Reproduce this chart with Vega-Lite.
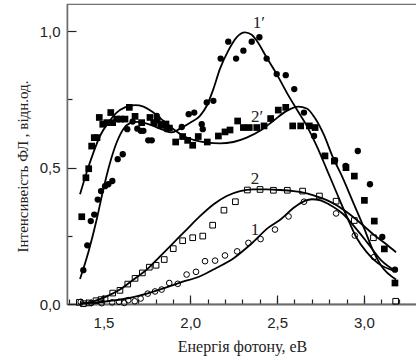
{
  "$schema": "https://vega.github.io/schema/vega-lite/v6.json",
  "autosize": "none",
  "padding": {"left": 67, "top": 4, "right": 0, "bottom": 58},
  "width": 350,
  "height": 300,
  "config": {
    "view": {"stroke": "#707070", "strokeWidth": 1.2},
    "axis": {"titleFont": "Liberation Serif", "titleFontWeight": "normal", "labelFont": "Liberation Sans"}
  },
  "datasets": {
    "pts": [
      {"s":"1p","x":1.384,"y":0.124},{"s":"1p","x":1.407,"y":0.215},{"s":"1p","x":1.427,"y":0.304},{"s":"1p","x":1.447,"y":0.328},{"s":"1p","x":1.467,"y":0.383},{"s":"1p","x":1.486,"y":0.414},{"s":"1p","x":1.509,"y":0.432},{"s":"1p","x":1.528,"y":0.439},{"s":"1p","x":1.551,"y":0.451},{"s":"1p","x":1.582,"y":0.531},{"s":"1p","x":1.611,"y":0.549},{"s":"1p","x":1.637,"y":0.641},{"s":"1p","x":1.668,"y":0.669},{"s":"1p","x":1.695,"y":0.643},{"s":"1p","x":1.715,"y":0.635},{"s":"1p","x":1.73,"y":0.635},{"s":"1p","x":1.758,"y":0.6},{"s":"1p","x":1.778,"y":0.6},{"s":"1p","x":1.807,"y":0.69},{"s":"1p","x":1.836,"y":0.659},{"s":"1p","x":1.864,"y":0.641},{"s":"1p","x":1.951,"y":0.649},{"s":"1p","x":1.991,"y":0.696},{"s":"1p","x":2.023,"y":0.702},{"s":"1p","x":2.066,"y":0.659},{"s":"1p","x":2.072,"y":0.641},{"s":"1p","x":2.095,"y":0.739},{"s":"1p","x":2.133,"y":0.745},{"s":"1p","x":2.175,"y":0.9},{"s":"1p","x":2.219,"y":0.962},{"s":"1p","x":2.264,"y":0.9},{"s":"1p","x":2.306,"y":0.929},{"s":"1p","x":2.354,"y":0.962},{"s":"1p","x":2.398,"y":0.978},{"s":"1p","x":2.44,"y":0.9},{"s":"1p","x":2.498,"y":0.843},{"s":"1p","x":2.55,"y":0.839},{"s":"1p","x":2.599,"y":0.788},{"s":"1p","x":2.655,"y":0.702},{"s":"1p","x":2.713,"y":0.616},{"s":"1p","x":2.772,"y":0.543},{"s":"1p","x":2.834,"y":0.527},{"s":"1p","x":2.895,"y":0.506},{"s":"1p","x":2.965,"y":0.561},{"s":"1p","x":3.035,"y":0.439},{"s":"1p","x":3.106,"y":0.246},{"s":"1p","x":3.179,"y":0.126},
      {"s":"2p","x":1.375,"y":0.32},{"s":"2p","x":1.399,"y":0.463},{"s":"2p","x":1.415,"y":0.496},{"s":"2p","x":1.432,"y":0.579},{"s":"2p","x":1.447,"y":0.61},{"s":"2p","x":1.463,"y":0.61},{"s":"2p","x":1.476,"y":0.684},{"s":"2p","x":1.496,"y":0.659},{"s":"2p","x":1.519,"y":0.665},{"s":"2p","x":1.542,"y":0.702},{"s":"2p","x":1.553,"y":0.665},{"s":"2p","x":1.576,"y":0.678},{"s":"2p","x":1.599,"y":0.678},{"s":"2p","x":1.624,"y":0.678},{"s":"2p","x":1.649,"y":0.721},{"s":"2p","x":1.682,"y":0.688},{"s":"2p","x":1.72,"y":0.665},{"s":"2p","x":1.768,"y":0.684},{"s":"2p","x":1.79,"y":0.665},{"s":"2p","x":1.81,"y":0.675},{"s":"2p","x":1.83,"y":0.655},{"s":"2p","x":1.86,"y":0.66},{"s":"2p","x":1.88,"y":0.645},{"s":"2p","x":1.916,"y":0.594},{"s":"2p","x":1.956,"y":0.614},{"s":"2p","x":1.985,"y":0.6},{"s":"2p","x":2.014,"y":0.582},{"s":"2p","x":2.046,"y":0.614},{"s":"2p","x":2.098,"y":0.594},{"s":"2p","x":2.162,"y":0.616},{"s":"2p","x":2.2,"y":0.631},{"s":"2p","x":2.229,"y":0.638},{"s":"2p","x":2.273,"y":0.671},{"s":"2p","x":2.306,"y":0.647},{"s":"2p","x":2.34,"y":0.647},{"s":"2p","x":2.383,"y":0.647},{"s":"2p","x":2.425,"y":0.653},{"s":"2p","x":2.463,"y":0.68},{"s":"2p","x":2.507,"y":0.711},{"s":"2p","x":2.55,"y":0.721},{"s":"2p","x":2.59,"y":0.653},{"s":"2p","x":2.636,"y":0.653},{"s":"2p","x":2.686,"y":0.653},{"s":"2p","x":2.719,"y":0.647},{"s":"2p","x":2.776,"y":0.543},{"s":"2p","x":2.83,"y":0.524},{"s":"2p","x":2.897,"y":0.5},{"s":"2p","x":2.945,"y":0.469},{"s":"2p","x":3.003,"y":0.38},{"s":"2p","x":3.06,"y":0.304},{"s":"2p","x":3.118,"y":0.202},{"s":"2p","x":3.179,"y":0.077},
      {"s":"2","x":1.361,"y":0.006},{"s":"2","x":1.384,"y":0.001},{"s":"2","x":1.418,"y":0.004},{"s":"2","x":1.457,"y":0.012},{"s":"2","x":1.486,"y":0.016},{"s":"2","x":1.509,"y":0.019},{"s":"2","x":1.553,"y":0.04},{"s":"2","x":1.595,"y":0.05},{"s":"2","x":1.64,"y":0.073},{"s":"2","x":1.682,"y":0.094},{"s":"2","x":1.724,"y":0.114},{"s":"2","x":1.764,"y":0.135},{"s":"2","x":1.803,"y":0.142},{"s":"2","x":1.85,"y":0.163},{"s":"2","x":1.902,"y":0.203},{"s":"2","x":1.956,"y":0.232},{"s":"2","x":2.014,"y":0.243},{"s":"2","x":2.072,"y":0.249},{"s":"2","x":2.129,"y":0.289},{"s":"2","x":2.194,"y":0.344},{"s":"2","x":2.26,"y":0.375},{"s":"2","x":2.329,"y":0.418},{"s":"2","x":2.402,"y":0.42},{"s":"2","x":2.479,"y":0.417},{"s":"2","x":2.559,"y":0.417},{"s":"2","x":2.647,"y":0.414},{"s":"2","x":2.744,"y":0.396},{"s":"2","x":2.84,"y":0.377},{"s":"2","x":2.945,"y":0.306},{"s":"2","x":3.055,"y":0.243},{"s":"2","x":3.183,"y":0.01},
      {"s":"1","x":1.369,"y":0.008},{"s":"1","x":1.43,"y":0.004},{"s":"1","x":1.49,"y":0.003},{"s":"1","x":1.55,"y":0.006},{"s":"1","x":1.59,"y":0.008},{"s":"1","x":1.62,"y":0.004},{"s":"1","x":1.643,"y":0.014},{"s":"1","x":1.68,"y":0.01},{"s":"1","x":1.714,"y":0.02},{"s":"1","x":1.755,"y":0.038},{"s":"1","x":1.797,"y":0.046},{"s":"1","x":1.835,"y":0.053},{"s":"1","x":1.879,"y":0.077},{"s":"1","x":1.928,"y":0.074},{"s":"1","x":1.979,"y":0.108},{"s":"1","x":2.033,"y":0.118},{"s":"1","x":2.085,"y":0.157},{"s":"1","x":2.143,"y":0.159},{"s":"1","x":2.2,"y":0.178},{"s":"1","x":2.27,"y":0.193},{"s":"1","x":2.335,"y":0.224},{"s":"1","x":2.405,"y":0.238},{"s":"1","x":2.488,"y":0.273},{"s":"1","x":2.566,"y":0.321},{"s":"1","x":2.655,"y":0.375},{"s":"1","x":2.84,"y":0.332},{"s":"1","x":2.948,"y":0.251},{"s":"1","x":3.058,"y":0.172}
    ],
    "curves": [
      {"s":"1p","x":1.365,"y":0.092},{"s":"1p","x":1.413,"y":0.19},{"s":"1p","x":1.461,"y":0.31},{"s":"1p","x":1.499,"y":0.42},{"s":"1p","x":1.538,"y":0.518},{"s":"1p","x":1.576,"y":0.592},{"s":"1p","x":1.614,"y":0.641},{"s":"1p","x":1.653,"y":0.663},{"s":"1p","x":1.691,"y":0.668},{"s":"1p","x":1.73,"y":0.665},{"s":"1p","x":1.787,"y":0.653},{"s":"1p","x":1.845,"y":0.638},{"s":"1p","x":1.893,"y":0.629},{"s":"1p","x":1.941,"y":0.643},{"s":"1p","x":1.999,"y":0.665},{"s":"1p","x":2.056,"y":0.69},{"s":"1p","x":2.095,"y":0.727},{"s":"1p","x":2.133,"y":0.788},{"s":"1p","x":2.171,"y":0.862},{"s":"1p","x":2.219,"y":0.929},{"s":"1p","x":2.267,"y":0.978},{"s":"1p","x":2.315,"y":0.996},{"s":"1p","x":2.354,"y":0.987},{"s":"1p","x":2.383,"y":0.965},{"s":"1p","x":2.44,"y":0.904},{"s":"1p","x":2.498,"y":0.843},{"s":"1p","x":2.555,"y":0.776},{"s":"1p","x":2.613,"y":0.714},{"s":"1p","x":2.671,"y":0.653},{"s":"1p","x":2.728,"y":0.58},{"s":"1p","x":2.786,"y":0.494},{"s":"1p","x":2.843,"y":0.408},{"s":"1p","x":2.901,"y":0.322},{"s":"1p","x":2.958,"y":0.243},{"s":"1p","x":3.016,"y":0.19},{"s":"1p","x":3.08,"y":0.15},{"s":"1p","x":3.185,"y":0.12},
      {"s":"2p","x":1.365,"y":0.402},{"s":"2p","x":1.403,"y":0.482},{"s":"2p","x":1.442,"y":0.555},{"s":"2p","x":1.48,"y":0.616},{"s":"2p","x":1.528,"y":0.665},{"s":"2p","x":1.576,"y":0.702},{"s":"2p","x":1.624,"y":0.721},{"s":"2p","x":1.682,"y":0.729},{"s":"2p","x":1.73,"y":0.724},{"s":"2p","x":1.787,"y":0.702},{"s":"2p","x":1.845,"y":0.672},{"s":"2p","x":1.903,"y":0.641},{"s":"2p","x":1.96,"y":0.616},{"s":"2p","x":2.018,"y":0.602},{"s":"2p","x":2.095,"y":0.592},{"s":"2p","x":2.171,"y":0.589},{"s":"2p","x":2.248,"y":0.594},{"s":"2p","x":2.325,"y":0.61},{"s":"2p","x":2.402,"y":0.635},{"s":"2p","x":2.479,"y":0.672},{"s":"2p","x":2.555,"y":0.708},{"s":"2p","x":2.622,"y":0.724},{"s":"2p","x":2.671,"y":0.717},{"s":"2p","x":2.72,"y":0.68},{"s":"2p","x":2.77,"y":0.62},{"s":"2p","x":2.82,"y":0.54},{"s":"2p","x":2.88,"y":0.46},{"s":"2p","x":2.94,"y":0.37},{"s":"2p","x":3.0,"y":0.28},{"s":"2p","x":3.05,"y":0.2},{"s":"2p","x":3.1,"y":0.14},{"s":"2p","x":3.185,"y":0.09},
      {"s":"2","x":1.365,"y":0.001},{"s":"2","x":1.442,"y":0.01},{"s":"2","x":1.519,"y":0.028},{"s":"2","x":1.595,"y":0.053},{"s":"2","x":1.672,"y":0.089},{"s":"2","x":1.749,"y":0.126},{"s":"2","x":1.826,"y":0.175},{"s":"2","x":1.903,"y":0.224},{"s":"2","x":1.979,"y":0.273},{"s":"2","x":2.056,"y":0.322},{"s":"2","x":2.133,"y":0.365},{"s":"2","x":2.21,"y":0.396},{"s":"2","x":2.287,"y":0.414},{"s":"2","x":2.363,"y":0.42},{"s":"2","x":2.44,"y":0.42},{"s":"2","x":2.517,"y":0.418},{"s":"2","x":2.594,"y":0.414},{"s":"2","x":2.671,"y":0.406},{"s":"2","x":2.748,"y":0.39},{"s":"2","x":2.824,"y":0.369},{"s":"2","x":2.901,"y":0.337},{"s":"2","x":2.978,"y":0.298},{"s":"2","x":3.055,"y":0.255},{"s":"2","x":3.131,"y":0.218},{"s":"2","x":3.185,"y":0.19},
      {"s":"1","x":1.365,"y":0.002},{"s":"1","x":1.45,"y":0.005},{"s":"1","x":1.55,"y":0.012},{"s":"1","x":1.65,"y":0.022},{"s":"1","x":1.75,"y":0.038},{"s":"1","x":1.85,"y":0.058},{"s":"1","x":1.95,"y":0.08},{"s":"1","x":2.05,"y":0.1},{"s":"1","x":2.15,"y":0.132},{"s":"1","x":2.25,"y":0.168},{"s":"1","x":2.35,"y":0.22},{"s":"1","x":2.45,"y":0.28},{"s":"1","x":2.52,"y":0.31},{"s":"1","x":2.6,"y":0.355},{"s":"1","x":2.66,"y":0.378},{"s":"1","x":2.7,"y":0.384},{"s":"1","x":2.75,"y":0.38},{"s":"1","x":2.8,"y":0.365},{"s":"1","x":2.88,"y":0.33},{"s":"1","x":2.95,"y":0.28},{"s":"1","x":3.02,"y":0.225},{"s":"1","x":3.1,"y":0.16},{"s":"1","x":3.185,"y":0.12}
    ],
    "labels": [
      {"t":"1′","x":2.395,"y":1.03},
      {"t":"2′","x":2.385,"y":0.685},
      {"t":"2","x":2.373,"y":0.46},
      {"t":"1","x":2.373,"y":0.27}
    ]
  },
  "layer": [
    {
      "data": {"name": "curves"},
      "mark": {"type": "line", "color": "black", "strokeWidth": 1.8, "interpolate": "monotone"},
      "encoding": {
        "x": {"field": "x", "type": "quantitative", "scale": {"domain": [1.29, 3.306], "nice": false, "zero": false},
              "axis": {"orient": "bottom", "values": [1.3,1.4,1.5,1.6,1.7,1.8,1.9,2.0,2.1,2.2,2.3,2.4,2.5,2.6,2.7,2.8,2.9,3.0,3.1,3.2], "labels": false, "domain": false, "grid": false, "tickSize": -5, "tickColor": "#222", "tickWidth": 1.2, "title": null}},
        "y": {"field": "y", "type": "quantitative", "scale": {"domain": [0, 1.1], "nice": false},
              "axis": {"orient": "left", "values": [0.25, 0.75], "labels": false, "domain": false, "grid": false, "tickSize": -5, "tickColor": "#222", "tickWidth": 1.2, "title": null}},
        "detail": {"field": "s"}
      }
    },
    {
      "data": {"name": "pts"},
      "transform": [{"filter": "datum.s == '1p'"}],
      "mark": {"type": "circle", "color": "black", "size": 40, "opacity": 1},
      "encoding": {
        "x": {"field": "x", "type": "quantitative",
              "axis": {"orient": "bottom", "values": [1.5, 2.0, 2.5, 3.0], "labelExpr": "replace(format(datum.value, '.1f'), '.', ',')", "grid": false, "tickSize": -9, "tickColor": "#222", "tickWidth": 1.2, "domainColor": "#6a6a6a", "domainWidth": 2, "labelFont": "Liberation Sans", "labelFontSize": 15, "labelColor": "#222", "labelPadding": 20, "title": "Енергія фотону, еВ", "titleFont": "Liberation Serif", "titleFontSize": 16, "titleFontWeight": "normal", "titleColor": "#222", "titlePadding": 8}},
        "y": {"field": "y", "type": "quantitative",
              "axis": {"orient": "left", "values": [0, 0.5, 1.0], "labelExpr": "replace(format(datum.value, '.1f'), '.', ',')", "grid": false, "tickSize": -9, "tickColor": "#222", "tickWidth": 1.2, "domainColor": "#6a6a6a", "domainWidth": 1.5, "labelFont": "Liberation Sans", "labelFontSize": 15, "labelColor": "#222", "labelPadding": 16, "title": "Інтенсивеість ФЛ , відн.од.", "titleFont": "Liberation Serif", "titleFontSize": 15, "titleFontWeight": "normal", "titleColor": "#222", "titlePadding": 9, "titleY": 162}}
      }
    },
    {
      "data": {"name": "pts"},
      "transform": [{"filter": "datum.s == '2p'"}],
      "mark": {"type": "square", "color": "black", "size": 45, "opacity": 1},
      "encoding": {
        "x": {"field": "x", "type": "quantitative", "axis": null},
        "y": {"field": "y", "type": "quantitative", "axis": null}
      }
    },
    {
      "data": {"name": "pts"},
      "transform": [{"filter": "datum.s == '2'"}],
      "mark": {"type": "square", "filled": false, "color": "black", "strokeWidth": 1, "size": 32, "opacity": 1},
      "encoding": {
        "x": {"field": "x", "type": "quantitative", "axis": null},
        "y": {"field": "y", "type": "quantitative", "axis": null}
      }
    },
    {
      "data": {"name": "pts"},
      "transform": [{"filter": "datum.s == '1'"}],
      "mark": {"type": "circle", "filled": false, "color": "black", "strokeWidth": 1, "size": 32, "opacity": 1},
      "encoding": {
        "x": {"field": "x", "type": "quantitative", "axis": null},
        "y": {"field": "y", "type": "quantitative", "axis": null}
      }
    },
    {
      "data": {"name": "labels"},
      "mark": {"type": "text", "font": "Liberation Serif", "fontSize": 17, "color": "#222", "align": "center", "baseline": "middle"},
      "encoding": {
        "x": {"field": "x", "type": "quantitative", "axis": null},
        "y": {"field": "y", "type": "quantitative", "axis": null},
        "text": {"field": "t"}
      }
    }
  ],
  "resolve": {"axis": {"x": "independent", "y": "independent"}}
}
